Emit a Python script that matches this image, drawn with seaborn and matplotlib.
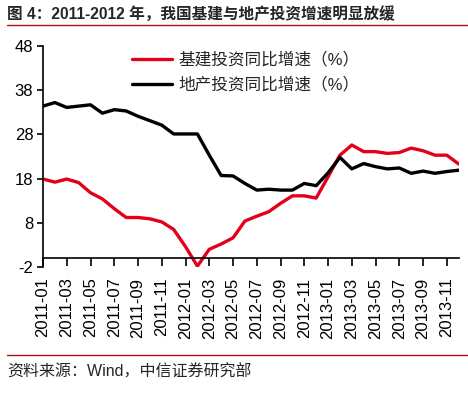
import matplotlib
matplotlib.use("Agg")
import matplotlib.pyplot as plt
from matplotlib.lines import Line2D
import seaborn as sns
import pandas as pd

sns.set_style("ticks")
plt.rcParams['font.family'] = ['Liberation Sans', 'Noto Sans CJK SC', 'DejaVu Sans']
plt.rcParams['axes.unicode_minus'] = False

# ---- data ----
months = ["2011-01", "2011-02", "2011-03", "2011-04", "2011-05", "2011-06",
          "2011-07", "2011-08", "2011-09", "2011-10", "2011-11", "2011-12",
          "2012-01", "2012-02", "2012-03", "2012-04", "2012-05", "2012-06",
          "2012-07", "2012-08", "2012-09", "2012-10", "2012-11", "2012-12",
          "2013-01", "2013-02", "2013-03", "2013-04", "2013-05", "2013-06",
          "2013-07", "2013-08", "2013-09", "2013-10", "2013-11", "2013-12"]
infra = [17.9, 17.2, 17.9, 17.1, 14.8, 13.4, 11.2, 9.2, 9.2, 8.9, 8.2, 6.5,
         2.6, -1.8, 2.0, 3.2, 4.6, 8.4, 9.5, 10.5, 12.4, 14.1, 14.1, 13.6,
         18.4, 23.3, 25.6, 24.1, 24.1, 23.7, 23.9, 24.9, 24.3, 23.3, 23.3, 21.3]
realestate = [34.4, 35.2, 34.1, 34.4, 34.7, 32.8, 33.6, 33.3, 32.1, 31.1, 30.1, 28.1,
              28.1, 28.1, 23.3, 18.7, 18.6, 16.9, 15.4, 15.6, 15.4, 15.4, 16.9, 16.4,
              19.3, 22.8, 20.2, 21.4, 20.7, 20.2, 20.4, 19.2, 19.7, 19.2, 19.6, 19.9]
series_names = ["基建投资同比增速（%）", "地产投资同比增速（%）"]
yticks = [-2, 8, 18, 28, 38, 48]
title = "图 4：2011-2012 年，我国基建与地产投资增速明显放缓"
source = "资料来源：Wind，中信证券研究部"

W, H = 468, 396
fig = plt.figure(figsize=(W / 100, H / 100), dpi=100)
ax = fig.add_axes([43 / W, 1 - 267 / H, (458.7 - 43) / W, (267 - 46) / H])

idx = list(range(len(months)))
df = pd.DataFrame({"i": idx, "infra": infra, "re": realestate})
sns.lineplot(data=df, x="i", y="infra", ax=ax, color="#E2001A", linewidth=2.4,
             label=series_names[0])
sns.lineplot(data=df, x="i", y="re", ax=ax, color="#000000", linewidth=2.4,
             label=series_names[1])

for s in ["top", "right"]:
    ax.spines[s].set_visible(False)
ax.spines["bottom"].set_position(("data", 0))
ax.spines["left"].set_linewidth(1.2)
ax.spines["bottom"].set_linewidth(1.2)
ax.spines["left"].set_color("black")
ax.spines["bottom"].set_color("black")

ax.set_xlim(0, len(months) - 1)
ax.set_ylim(-2, 48)
ax.set_yticks(yticks)
ax.set_yticklabels([str(v) for v in yticks], fontsize=12)
ax.set_xticks(idx[::2])
ax.set_xticklabels(months[::2], rotation=90, fontsize=12)
ax.set_xlabel("")
ax.set_ylabel("")
ax.tick_params(axis="x", direction="out", length=6, width=1.2, pad=8, colors="black")
ax.tick_params(axis="y", direction="out", length=4.5, width=1.2, pad=2.5, colors="black")
ax.grid(False)

leg = ax.legend(loc="upper left", bbox_to_anchor=((132 - 43) / (458.7 - 43), (267 - 52) / 221),
                frameon=False, fontsize=12, handlelength=2.4, handletextpad=0.4,
                labelspacing=0.55, borderpad=0, borderaxespad=0)

# title and decorations
fig.text(7 / W, 1 - 14 / H, title, fontsize=11.25, fontweight="bold", va="center", ha="left")
fig.add_artist(Line2D([7 / W, 1.0], [1 - 25 / H, 1 - 25 / H], color="#B01010", linewidth=1.0))
fig.add_artist(Line2D([7 / W, 1.0], [1 - 355 / H, 1 - 355 / H], color="#B01010", linewidth=1.0))
fig.text(7 / W, 1 - 372 / H, source, fontsize=11.5, va="center", ha="left")

fig.savefig("out.png", dpi=100)
